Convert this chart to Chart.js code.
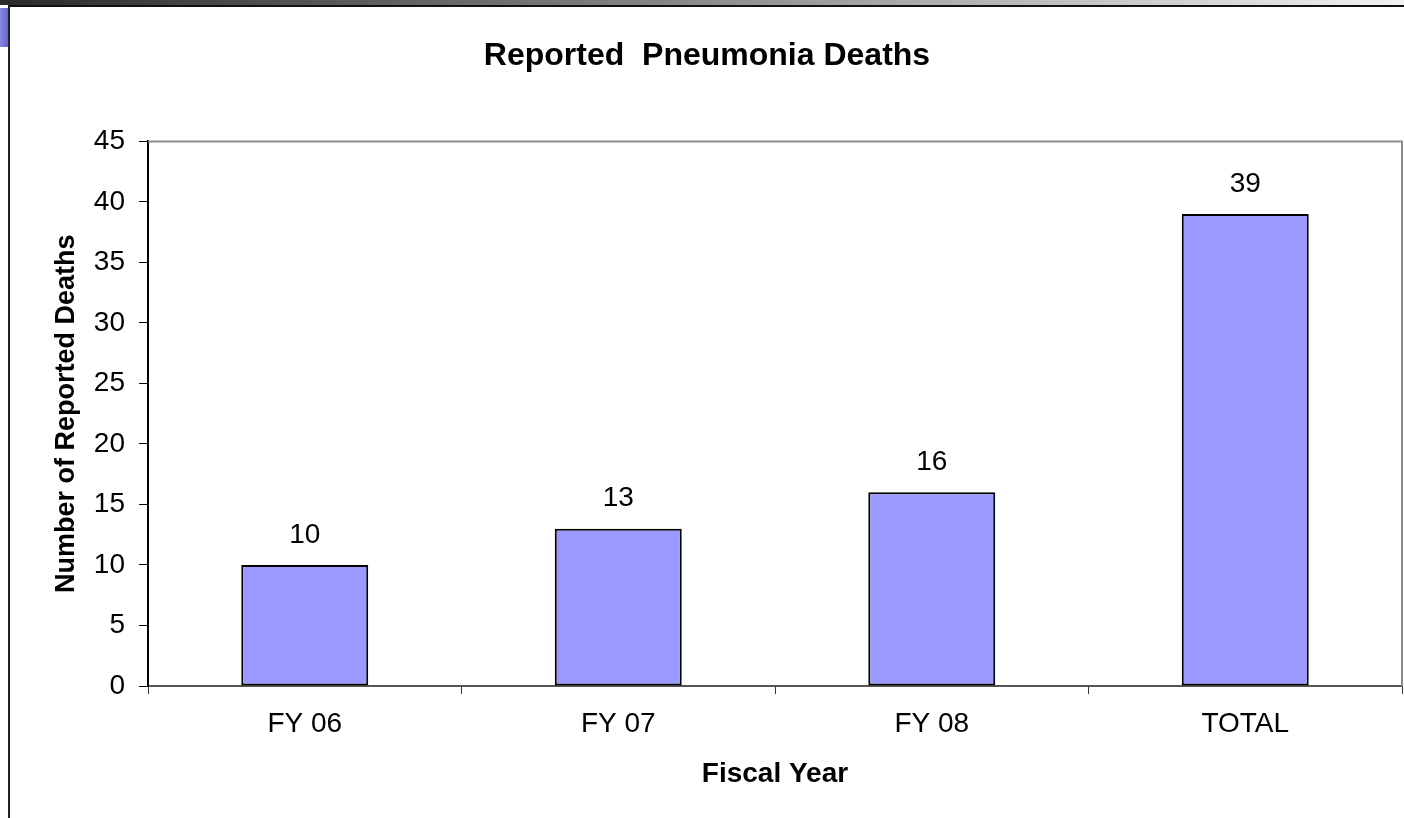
<!DOCTYPE html>
<html>
<head>
<meta charset="utf-8">
<title>Reported Pneumonia Deaths</title>
<script src="https://cdn.jsdelivr.net/npm/chart.js@4"></script>
<style>
    body { margin: 0; background: #fff; overflow: hidden; }
    #wrap { position: relative; width: 1404px; height: 818px; }
    #deathChart { position: absolute; left: 0; top: 0; }
    .topStrip { position: absolute; left: 0; top: 0; width: 1404px; height: 5px;
        background: linear-gradient(to right, #2a2a2a, #777 40%, #f2f2f2); }
    .topLine { position: absolute; left: 8px; top: 5px; width: 1396px; height: 2px; background: #111; }
    .leftLine { position: absolute; left: 8px; top: 5px; width: 2px; height: 813px; background: #222; }
    .blueTab { position: absolute; left: 0; top: 8px; width: 8px; height: 39px;
        background: linear-gradient(to right, #8a8ae0, #6464d0); }
</style>
</head>
<body>
<div id="wrap">
    <canvas id="deathChart" width="1404" height="818"></canvas>
    <div class="topStrip"></div>
    <div class="topLine"></div>
    <div class="leftLine"></div>
    <div class="blueTab"></div>
</div>
<script>
// data
const fiscalYears = ['FY 06', 'FY 07', 'FY 08', 'TOTAL'];
const reportedDeaths = [10, 13, 16, 39];
const yTicks = [0, 5, 10, 15, 20, 25, 30, 35, 40, 45];

const FONT = '"Liberation Sans", Arial, sans-serif';

// grey frame on top and right of the plot area
const plotFrame = {
    id: 'plotFrame',
    beforeDatasetsDraw(chart) {
        const a = chart.chartArea;
        const ctx = chart.ctx;
        ctx.save();
        ctx.strokeStyle = '#8c8c8c';
        ctx.lineWidth = 2;
        ctx.beginPath();
        ctx.moveTo(a.left, a.top);
        ctx.lineTo(a.right, a.top);
        ctx.lineTo(a.right, a.bottom);
        ctx.stroke();
        ctx.restore();
    }
};

// value labels above the bars
const barValues = {
    id: 'barValues',
    afterDatasetsDraw(chart) {
        const ctx = chart.ctx;
        const meta = chart.getDatasetMeta(0);
        ctx.save();
        ctx.font = '28px ' + FONT;
        ctx.fillStyle = '#000';
        ctx.textAlign = 'center';
        ctx.textBaseline = 'middle';
        meta.data.forEach(function (bar, i) {
            ctx.fillText(String(reportedDeaths[i]), bar.x, bar.y - 30);
        });
        ctx.restore();
    }
};

const ctx = document.getElementById('deathChart').getContext('2d');
new Chart(ctx, {
    type: 'bar',
    data: {
        labels: fiscalYears,
        datasets: [{
            label: 'Reported Deaths',
            data: reportedDeaths,
            backgroundColor: '#9999ff',
            borderColor: '#000',
            borderWidth: 2,
            borderSkipped: false,
            barPercentage: 0.405,
            categoryPercentage: 1
        }]
    },
    options: {
        responsive: false,
        animation: false,
        layout: { padding: { left: 12, right: 2, top: 0, bottom: 0 } },
        plugins: {
            legend: { display: false },
            tooltip: { enabled: false },
            title: {
                display: true,
                text: 'Reported  Pneumonia Deaths',
                color: '#000',
                font: { family: FONT, size: 32, weight: 'bold', lineHeight: 1.2 },
                padding: { top: 37, bottom: 66 }
            }
        },
        scales: {
            x: {
                grid: { display: true, drawOnChartArea: false, drawTicks: true, tickLength: 8, color: '#333', offset: true },
                border: { display: true, color: '#555', width: 2 },
                ticks: { color: '#000', font: { family: FONT, size: 28 }, padding: 13, maxRotation: 0 },
                title: {
                    display: true,
                    text: 'Fiscal Year',
                    color: '#000',
                    font: { family: FONT, size: 28, weight: 'bold', lineHeight: 1.2 },
                    padding: { top: 0, bottom: 27 }
                },
                afterFit(scale) { scale.height = 132; }
            },
            y: {
                min: 0,
                max: 45,
                afterBuildTicks(scale) { scale.ticks = yTicks.map(v => ({ value: v })); },
                grid: { display: true, drawOnChartArea: false, drawTicks: true, tickLength: 9, color: '#000' },
                border: { display: true, color: '#000', width: 2 },
                ticks: { color: '#000', font: { family: FONT, size: 28 }, padding: 14 },
                title: {
                    display: true,
                    text: 'Number of Reported Deaths',
                    color: '#000',
                    font: { family: FONT, size: 27, weight: 'bold', lineHeight: 1.2 },
                    padding: { top: 38, bottom: 0 }
                },
                afterFit(scale) { scale.width = 136; }
            }
        }
    },
    plugins: [plotFrame, barValues]
});
</script>
</body>
</html>
